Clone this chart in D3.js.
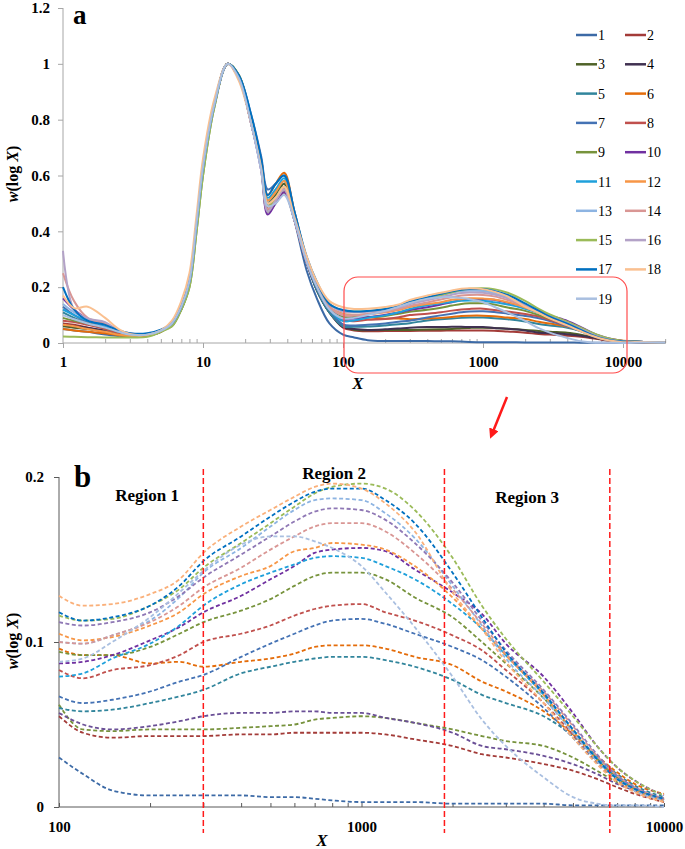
<!DOCTYPE html>
<html>
<head>
<meta charset="utf-8">
<script src="https://cdn.jsdelivr.net/npm/d3@7"></script>
<style>
  body { margin: 0; background: #fff; }
  svg text { font-family: 'Liberation Serif', 'Times New Roman', serif; }
</style>
</head>
<body>
<div id="chart"></div>
<script>
// Series names (legend) and their colours
const seriesNames = ['1','2','3','4','5','6','7','8','9','10','11','12','13','14','15','16','17','18','19'];
const seriesColors = ['#3c6aa6','#a33b38','#4f6228','#403151','#31859c','#e46c0a','#4472b4','#c0504d','#77933c',
  '#7030a0','#1fa0db','#f79646','#8db4e2','#d99694','#9bbb59','#b3a2c7','#0070c0','#fac090','#a9bfe0'];
// dashed curves in panel b come out a little lighter for the dark series
const seriesColorsB = ['#3c6aa6','#a33b38','#76923c','#6a4f96','#31859c','#e46c0a','#4472b4','#c0504d','#77933c',
  '#7030a0','#1fa0db','#f79646','#8db4e2','#d99694','#9bbb59','#8f78b5','#0070c0','#fab07a','#a9bfe0'];

// X grid for the low part (1 - 80)
const lowX = [1, 1.2, 1.5, 2, 2.5, 3, 4, 5, 6, 7, 8, 9, 10, 12, 15, 18, 22, 26, 29, 33, 38, 45, 55, 65, 80];
// w(log X) values, one row per series
const lowW = [
  [0.05,0.045,0.04,0.03,0.025,0.022,0.025,0.04,0.07,0.13,0.22,0.43,0.63,0.85,1,0.95,0.79,0.63,0.50,0.53,0.57,0.44,0.26,0.16,0.07],
  [0.07,0.065,0.055,0.04,0.03,0.025,0.028,0.042,0.07,0.13,0.22,0.43,0.63,0.85,1,0.95,0.8,0.63,0.49,0.52,0.56,0.45,0.29,0.19,0.11],
  [0.06,0.055,0.05,0.04,0.03,0.025,0.027,0.04,0.07,0.12,0.21,0.42,0.62,0.85,1,0.95,0.8,0.64,0.50,0.53,0.57,0.45,0.29,0.19,0.11],
  [0.065,0.06,0.055,0.045,0.033,0.027,0.03,0.042,0.07,0.13,0.22,0.43,0.63,0.85,1,0.95,0.79,0.63,0.48,0.51,0.55,0.44,0.29,0.19,0.11],
  [0.11,0.09,0.07,0.05,0.035,0.028,0.03,0.043,0.07,0.13,0.22,0.43,0.63,0.85,1,0.95,0.8,0.64,0.51,0.54,0.58,0.46,0.29,0.19,0.11],
  [0.05,0.045,0.04,0.035,0.028,0.024,0.027,0.04,0.07,0.13,0.22,0.43,0.63,0.85,1,0.96,0.81,0.66,0.53,0.57,0.61,0.47,0.30,0.21,0.13],
  [0.13,0.1,0.075,0.055,0.04,0.03,0.03,0.045,0.07,0.13,0.22,0.43,0.63,0.85,1,0.96,0.82,0.67,0.55,0.57,0.60,0.47,0.30,0.20,0.12],
  [0.08,0.075,0.065,0.05,0.035,0.028,0.03,0.043,0.07,0.13,0.22,0.43,0.63,0.85,1,0.95,0.79,0.63,0.48,0.51,0.55,0.44,0.29,0.20,0.12],
  [0.09,0.08,0.07,0.055,0.04,0.03,0.03,0.045,0.06,0.12,0.2,0.4,0.6,0.84,1,0.96,0.8,0.63,0.47,0.50,0.54,0.44,0.30,0.21,0.13],
  [0.16,0.12,0.085,0.06,0.042,0.032,0.032,0.045,0.07,0.13,0.22,0.43,0.63,0.85,1,0.95,0.79,0.62,0.46,0.50,0.54,0.44,0.29,0.20,0.12],
  [0.12,0.1,0.08,0.06,0.04,0.03,0.03,0.045,0.07,0.13,0.22,0.43,0.63,0.85,1,0.95,0.8,0.65,0.52,0.55,0.59,0.46,0.30,0.20,0.12],
  [0.065,0.06,0.05,0.04,0.03,0.025,0.028,0.042,0.07,0.13,0.22,0.43,0.63,0.85,1,0.95,0.8,0.64,0.51,0.54,0.58,0.46,0.30,0.21,0.13],
  [0.14,0.11,0.085,0.065,0.045,0.032,0.032,0.046,0.07,0.13,0.22,0.43,0.63,0.85,1,0.95,0.8,0.64,0.50,0.52,0.56,0.45,0.30,0.21,0.13],
  [0.25,0.15,0.09,0.07,0.045,0.033,0.032,0.045,0.07,0.13,0.22,0.43,0.63,0.85,1,0.95,0.79,0.63,0.48,0.51,0.55,0.44,0.29,0.21,0.13],
  [0.023,0.022,0.021,0.02,0.02,0.02,0.022,0.04,0.06,0.12,0.2,0.4,0.6,0.84,1,0.96,0.8,0.63,0.49,0.52,0.56,0.45,0.30,0.21,0.14],
  [0.33,0.12,0.088,0.075,0.045,0.035,0.033,0.046,0.07,0.13,0.22,0.43,0.63,0.85,1,0.95,0.79,0.62,0.47,0.51,0.55,0.44,0.30,0.21,0.14],
  [0.2,0.12,0.08,0.065,0.045,0.035,0.035,0.048,0.07,0.13,0.22,0.43,0.63,0.85,1,0.96,0.82,0.66,0.53,0.57,0.60,0.47,0.31,0.22,0.14],
  [0.17,0.125,0.13,0.09,0.05,0.032,0.03,0.045,0.08,0.15,0.25,0.46,0.66,0.87,1,0.94,0.79,0.63,0.50,0.52,0.56,0.45,0.31,0.22,0.15],
  [0.1,0.085,0.07,0.055,0.04,0.03,0.03,0.044,0.07,0.13,0.22,0.43,0.63,0.85,1,0.95,0.79,0.62,0.49,0.50,0.53,0.44,0.29,0.20,0.12]
];

// X grid for the high part (100 - 20000), shared by panel a and panel b
const highX = [100, 120, 150, 200, 250, 300, 400, 500, 600, 700, 800, 1000, 1200, 1500, 2000, 2500, 3000, 4000, 5000, 6000, 7000, 8000, 10000, 14000, 20000];
const highW = [
  [0.030,0.020,0.010,0.007,0.007,0.007,0.007,0.006,0.006,0.005,0.004,0.003,0.003,0.003,0.002,0.002,0.002,0.002,0.001,0.001,0.001,0.001,0.001,0.003,0.003],
  [0.055,0.045,0.042,0.043,0.043,0.043,0.044,0.044,0.045,0.045,0.045,0.045,0.044,0.041,0.037,0.032,0.030,0.026,0.022,0.017,0.012,0.008,0.003,0.003,0.003],
  [0.062,0.047,0.046,0.047,0.047,0.047,0.048,0.049,0.050,0.053,0.054,0.055,0.054,0.051,0.047,0.043,0.040,0.037,0.030,0.022,0.015,0.010,0.004,0.003,0.003],
  [0.057,0.050,0.047,0.049,0.052,0.055,0.057,0.057,0.058,0.058,0.057,0.057,0.054,0.051,0.045,0.037,0.035,0.031,0.026,0.020,0.014,0.010,0.004,0.003,0.003],
  [0.060,0.058,0.059,0.063,0.067,0.071,0.081,0.085,0.088,0.090,0.091,0.091,0.089,0.085,0.077,0.068,0.063,0.055,0.043,0.030,0.020,0.013,0.006,0.004,0.003],
  [0.096,0.092,0.092,0.087,0.088,0.085,0.088,0.090,0.093,0.097,0.098,0.098,0.096,0.091,0.086,0.076,0.070,0.058,0.044,0.031,0.021,0.014,0.008,0.004,0.003],
  [0.067,0.063,0.065,0.070,0.076,0.080,0.091,0.099,0.105,0.110,0.113,0.114,0.111,0.105,0.097,0.089,0.079,0.060,0.042,0.027,0.016,0.010,0.004,0.004,0.003],
  [0.083,0.078,0.083,0.086,0.092,0.100,0.105,0.110,0.116,0.120,0.122,0.123,0.118,0.113,0.104,0.095,0.083,0.063,0.044,0.028,0.017,0.011,0.005,0.004,0.003],
  [0.094,0.092,0.092,0.097,0.105,0.112,0.119,0.126,0.134,0.140,0.142,0.142,0.138,0.127,0.115,0.100,0.087,0.066,0.046,0.029,0.018,0.011,0.005,0.004,0.003],
  [0.087,0.088,0.092,0.101,0.109,0.118,0.128,0.138,0.146,0.154,0.156,0.157,0.155,0.144,0.130,0.117,0.099,0.079,0.057,0.037,0.024,0.016,0.007,0.004,0.003],
  [0.079,0.081,0.090,0.099,0.110,0.122,0.135,0.142,0.147,0.151,0.152,0.151,0.146,0.138,0.123,0.108,0.092,0.068,0.047,0.030,0.018,0.011,0.005,0.004,0.003],
  [0.105,0.101,0.103,0.110,0.118,0.129,0.140,0.146,0.155,0.157,0.160,0.159,0.156,0.146,0.127,0.108,0.092,0.068,0.046,0.028,0.016,0.010,0.004,0.004,0.003],
  [0.100,0.099,0.104,0.113,0.127,0.142,0.157,0.170,0.180,0.186,0.187,0.186,0.178,0.163,0.134,0.110,0.090,0.066,0.045,0.028,0.017,0.010,0.004,0.004,0.003],
  [0.100,0.099,0.104,0.112,0.122,0.133,0.145,0.156,0.164,0.170,0.172,0.172,0.167,0.154,0.132,0.111,0.093,0.070,0.049,0.031,0.019,0.012,0.005,0.004,0.003],
  [0.116,0.113,0.114,0.122,0.132,0.145,0.160,0.172,0.182,0.190,0.194,0.196,0.193,0.180,0.151,0.122,0.102,0.076,0.055,0.037,0.024,0.016,0.007,0.004,0.003],
  [0.112,0.110,0.112,0.118,0.128,0.139,0.153,0.164,0.173,0.179,0.181,0.180,0.174,0.160,0.136,0.113,0.095,0.071,0.050,0.032,0.019,0.012,0.005,0.004,0.003],
  [0.118,0.113,0.115,0.122,0.134,0.149,0.164,0.176,0.185,0.191,0.193,0.193,0.186,0.172,0.142,0.115,0.094,0.069,0.047,0.029,0.017,0.011,0.005,0.004,0.003],
  [0.128,0.122,0.123,0.129,0.138,0.154,0.170,0.180,0.188,0.194,0.196,0.193,0.184,0.167,0.130,0.108,0.088,0.063,0.042,0.026,0.015,0.009,0.003,0.004,0.003],
  [0.088,0.090,0.100,0.115,0.130,0.143,0.159,0.164,0.164,0.161,0.157,0.146,0.130,0.109,0.079,0.053,0.037,0.018,0.006,0.002,0.001,0.001,0.000,0.002,0.002]
];

// Tick values
const topXTicks = [1, 10, 100, 1000, 10000];
const topYTicks = [0, 0.2, 0.4, 0.6, 0.8, 1, 1.2];
const botXTicks = [100, 1000, 10000];
const botYTicks = [0, 0.1, 0.2];
// Region boundaries in panel b
const regionBounds = [300, 1880, 6620];
const regionLabels = ['Region 1', 'Region 2', 'Region 3'];

const width = 685;
const height = 849;

const svg = d3.select('#chart').append('svg')
  .attr('width', width)
  .attr('height', height);

// minor log ticks (2..9 of each decade)
function minorTicks(lo, hi) {
  const out = [];
  for (let d = lo; d < hi; d *= 10) {
    for (let k = 2; k <= 9; k++) if (d * k <= hi) out.push(d * k);
  }
  return out;
}

function seriesPoints(i) {
  return lowX.map((x, j) => [x, lowW[i][j]])
    .concat(highX.map((x, j) => [x, highW[i][j]]));
}

function styleTickText(sel) {
  sel.style('font-family', "'Liberation Serif', serif")
    .style('font-weight', 'bold')
    .style('font-size', '15px')
    .attr('fill', '#000');
}

// ---------- panel a ----------
const xA = d3.scaleLog().domain([1, 20000]).range([63, 63 + 140 * Math.log10(20000)]);
const yA = d3.scaleLinear().domain([0, 1.2]).range([343, 8]);
const axisGrayA = '#a6a6a6';

const gA = svg.append('g');

// y axis
const yAxisA = gA.append('g')
  .attr('transform', `translate(${xA(1)},0)`)
  .call(d3.axisLeft(yA).tickValues(topYTicks).tickSize(5).tickFormat(d3.format('')));
yAxisA.select('.domain').attr('stroke', axisGrayA).attr('d', `M-0,${yA(1.2)}V${yA(0)}`);
yAxisA.selectAll('.tick line').attr('stroke', axisGrayA);
yAxisA.selectAll('.tick text').attr('x', -13).call(styleTickText);

// x axis, minor ticks pointing up
const xMinorA = gA.append('g')
  .attr('transform', `translate(0,${yA(0)})`)
  .call(d3.axisBottom(xA).tickValues(minorTicks(1, 20000)).tickSize(-4).tickFormat(''));
xMinorA.select('.domain').remove();
xMinorA.selectAll('.tick line').attr('stroke', axisGrayA);

const xAxisA = gA.append('g')
  .attr('transform', `translate(0,${yA(0)})`)
  .call(d3.axisBottom(xA).tickValues(topXTicks).tickSize(5).tickFormat(d3.format('')));
xAxisA.select('.domain').attr('stroke', axisGrayA).attr('d', `M${xA(1)},0H${xA(20000)}`);
xAxisA.selectAll('.tick line').attr('stroke', axisGrayA);
xAxisA.selectAll('.tick text').attr('y', 13).call(styleTickText);

// curves
const lineA = d3.line()
  .x((d) => xA(d[0]))
  .y((d) => yA(d[1]))
  .curve(d3.curveCatmullRom.alpha(0.5));

gA.append('g').selectAll('path')
  .data(seriesNames)
  .enter()
  .append('path')
  .attr('d', (d, i) => lineA(seriesPoints(i)))
  .attr('fill', 'none')
  .attr('stroke', (d, i) => seriesColors[i])
  .attr('stroke-width', 2);

// red highlight box around the 100-10000 region
gA.append('rect')
  .attr('x', 344).attr('y', 277)
  .attr('width', 283).attr('height', 96)
  .attr('rx', 14).attr('ry', 14)
  .attr('fill', 'none')
  .attr('stroke', '#ff4d4d')
  .attr('stroke-width', 1.2);

// axis titles
function wLogXLabel(g, x, y) {
  const t = g.append('text')
    .attr('transform', `translate(${x},${y}) rotate(-90)`)
    .attr('text-anchor', 'middle')
    .style('font-weight', 'bold')
    .style('font-size', '16px');
  t.append('tspan').style('font-style', 'italic').text('w');
  t.append('tspan').text('(log ');
  t.append('tspan').style('font-style', 'italic').text('X');
  t.append('tspan').text(')');
}
wLogXLabel(gA, 18, 174);

gA.append('text')
  .attr('x', 358).attr('y', 389)
  .attr('text-anchor', 'middle')
  .style('font-weight', 'bold').style('font-style', 'italic').style('font-size', '17px')
  .text('X');

gA.append('text')
  .attr('x', 73).attr('y', 24)
  .style('font-weight', 'bold').style('font-size', '27px')
  .text('a');

// legend: two columns
const legend = gA.append('g');
const legendItems = legend.selectAll('g')
  .data(seriesNames)
  .enter()
  .append('g')
  .attr('transform', (d, i) => `translate(${i % 2 === 0 ? 576 : 625},${35 + Math.floor(i / 2) * 29.3})`);
legendItems.append('line')
  .attr('x1', 0).attr('x2', 21)
  .attr('stroke', (d, i) => seriesColors[i])
  .attr('stroke-width', 2.5);
legendItems.append('text')
  .attr('x', 22).attr('y', 5)
  .style('font-size', '14px')
  .text((d) => d);

// arrow from panel a to panel b
svg.append('defs').append('marker')
  .attr('id', 'arrowhead')
  .attr('viewBox', '0 0 10 10')
  .attr('refX', 5).attr('refY', 5)
  .attr('markerWidth', 4).attr('markerHeight', 4)
  .attr('orient', 'auto')
  .append('path')
  .attr('d', 'M0,0L10,5L0,10z')
  .attr('fill', '#ff1a1a');
svg.append('line')
  .attr('x1', 507).attr('y1', 397)
  .attr('x2', 492).attr('y2', 434)
  .attr('stroke', '#ff1a1a')
  .attr('stroke-width', 2.5)
  .attr('marker-end', 'url(#arrowhead)');

// ---------- panel b ----------
const xB = d3.scaleLog().domain([100, 10000]).range([59, 664]);
const yB = d3.scaleLinear().domain([0, 0.2]).range([807, 477]);
const axisGrayB = '#595959';

const gB = svg.append('g');

const yAxisB = gB.append('g')
  .attr('transform', `translate(${xB(100)},0)`)
  .call(d3.axisLeft(yB).tickValues(botYTicks).tickSize(5).tickFormat(d3.format('')));
yAxisB.select('.domain').attr('stroke', axisGrayB).attr('d', `M0,${yB(0.2)}V${yB(0)}`);
yAxisB.selectAll('.tick line').attr('stroke', axisGrayB);
yAxisB.selectAll('.tick text').attr('x', -15).call(styleTickText);

const xMinorB = gB.append('g')
  .attr('transform', `translate(0,${yB(0)})`)
  .call(d3.axisBottom(xB).tickValues(minorTicks(100, 10000)).tickSize(-4).tickFormat(''));
xMinorB.select('.domain').remove();
xMinorB.selectAll('.tick line').attr('stroke', axisGrayB);

const xAxisB = gB.append('g')
  .attr('transform', `translate(0,${yB(0)})`)
  .call(d3.axisBottom(xB).tickValues(botXTicks).tickSize(-4).tickFormat(d3.format('')));
xAxisB.select('.domain').attr('stroke', axisGrayB).attr('d', `M${xB(100)},0H${xB(10000)}`);
xAxisB.selectAll('.tick line').attr('stroke', axisGrayB);
xAxisB.selectAll('.tick text').attr('y', 14).call(styleTickText);

const lineB = d3.line()
  .x((d) => xB(d[0]))
  .y((d) => yB(d[1]))
  .curve(d3.curveMonotoneX);

gB.append('g').selectAll('path')
  .data(seriesNames)
  .enter()
  .append('path')
  .attr('d', (d, i) => lineB(highX.map((x, j) => [x, highW[i][j]]).filter((p) => p[0] <= 10000)))
  .attr('fill', 'none')
  .attr('stroke', (d, i) => seriesColorsB[i])
  .attr('stroke-width', 1.8)
  .attr('stroke-dasharray', '4,2.5');

// region boundaries
gB.append('g').selectAll('line')
  .data(regionBounds)
  .enter()
  .append('line')
  .attr('x1', (d) => xB(d)).attr('x2', (d) => xB(d))
  .attr('y1', 469).attr('y2', 833)
  .attr('stroke', '#ff1a1a')
  .attr('stroke-width', 1.5)
  .attr('stroke-dasharray', '6,3');

// region labels
const regionPos = [[147, 501], [334, 479], [527, 503]];
gB.append('g').selectAll('text')
  .data(regionLabels)
  .enter()
  .append('text')
  .attr('x', (d, i) => regionPos[i][0])
  .attr('y', (d, i) => regionPos[i][1])
  .attr('text-anchor', 'middle')
  .style('font-weight', 'bold')
  .style('font-size', '17px')
  .text((d) => d);

wLogXLabel(gB, 18, 641);

gB.append('text')
  .attr('x', 322).attr('y', 846)
  .attr('text-anchor', 'middle')
  .style('font-weight', 'bold').style('font-style', 'italic').style('font-size', '17px')
  .text('X');

gB.append('text')
  .attr('x', 74).attr('y', 487)
  .style('font-weight', 'bold').style('font-size', '31px')
  .text('b');
</script>
</body>
</html>
